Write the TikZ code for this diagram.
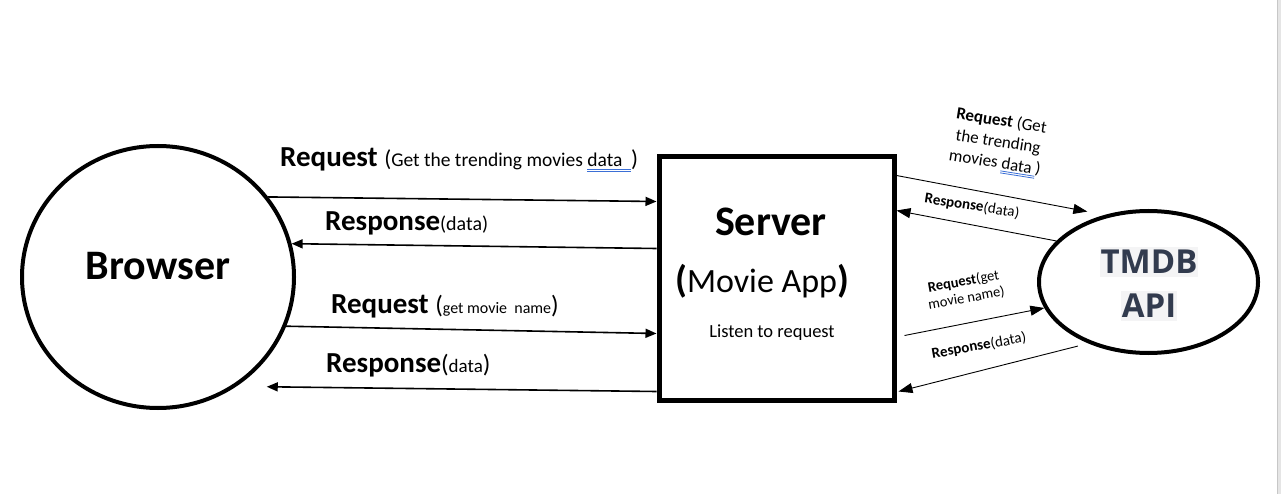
\documentclass[tikz,border=0pt]{standalone}
\usepackage{fontspec}
\setmainfont{Carlito}
\newfontfamily\apifont{Open Sans}
\usetikzlibrary{calc,arrows.meta,shapes.geometric}
\definecolor{apitext}{HTML}{323B4E}
\definecolor{apibg}{HTML}{F4F4F5}
\definecolor{ulblue}{HTML}{3B6FD6}
\newcommand{\sz}[1]{\fontsize{#1}{#1}\selectfont}
\newcommand{\dblul}[1]{\setbox0=\hbox{#1}%
  \rlap{\color{ulblue}\raisebox{-2.7pt}{\rule{\wd0}{0.8pt}}}%
  \rlap{\color{ulblue}\raisebox{-4.7pt}{\rule{\wd0}{0.8pt}}}\box0}
\begin{document}
\begin{tikzpicture}[x=1pt,y=-1pt]
      \tikzstyle{party}=[draw,ellipse,line width=4pt,inner sep=0pt]
      \tikzstyle{app}=[draw,rectangle,line width=5pt,inner sep=0pt]
      \tikzstyle{call}=[draw,line width=1.6pt,-{Triangle[length=11pt,width=9pt]}]
      \tikzstyle{apicall}=[draw,line width=0.9pt,-{Triangle[length=14pt,width=10pt]}]
      \tikzstyle{lbl}=[inner sep=0pt,anchor=base west]
      \tikzstyle{tilt}=[inner sep=0pt,align=center]
      \tikzstyle{hl}=[fill=apibg,text=apitext,inner xsep=1pt,inner ysep=3pt,font=\apifont\bfseries\sz{33}]
      \useasboundingbox (0,0) rectangle (1281,494);
      \fill[white] (0,0) rectangle (1281,494);
      \fill[black!10] (1277,0) rectangle (1281,494);
      \draw[black!22,line width=1.3pt] (1277.6,0) -- (1277.6,494);
      % the three parties
      \node[party,minimum width=272pt,minimum height=262pt] (browser) at (158,277) {};
      \node (browsertxt) at (158,266) {\sz{42}\bfseries Browser};
      \node[app,minimum width=235pt,minimum height=243pt] (app) at (776.5,278.5) {};
      \node (apptitle) at (771,222) {\sz{42}\bfseries Server};
      \node (appsub) at (762,281) {{\bfseries\sz{38}(}{\sz{34}Movie App}{\bfseries\sz{38})}};
      \node (applisten) at (772,333) {\sz{18.5}Listen to request};
      \node[party,minimum width=219pt,minimum height=142pt] (tmdb) at (1148.5,282) {};
      \node[hl] (tmdbtop) at (1149,262) {TMDB};
      \node[hl] (tmdbbot) at (1149,306) {API};
      % browser <-> server
      \path[call] (browser.36) -- ($(app.west)+(0,-77)$);
      \path[call] ($(app.west)+(0,-30)$) -- (browser.14);
      \path[call] (browser.-21) -- ($(app.west)+(0,55)$);
      \path[call] ($(app.west)+(0,113)$) -- ($(browser.-45)+(13,14)$);
      \node[lbl] (req1) at (280,167) {\textbf{\sz{29}Request }{\sz{23}(}{\sz{19.5}Get the trending movies \dblul{data\ \ }}{\sz{23})}};
      \node[lbl] (res1) at (325,231) {\textbf{\sz{29}Response}{\sz{20}(data)}};
      \node[lbl] (req2) at (331,313) {\textbf{\sz{29}Request }{\sz{25}(}{\sz{16}get movie\ \ name}{\sz{25})}};
      \node[lbl] (res2) at (326,372) {\textbf{\sz{29}Response}{\sz{25}(}{\sz{19}data}{\sz{25})}};
      % server <-> tmdb
      \path[apicall] ($(app.east)+(0,-103)$) -- ($(tmdb.131)+(-6,-7)$);
      \path[apicall] (tmdb.156) -- ($(app.east)+(0,-68)$);
      \path[apicall] ($(app.east)+(8,57)$) -- (tmdb.194);
      \path[apicall] ($(tmdb.222)+(-5,5)$) -- ($(app.east)+(2,113)$);
      \node[tilt,rotate=-9,font=\fontsize{17}{21}\selectfont] (req3) at (998,143) {\textbf{Request} (Get\\the trending\\movies \dblul{data\ })};
      \node[tilt,rotate=-9,font=\sz{15}] (res3) at (972,206) {\textbf{Response}(data)};
      \node[tilt,rotate=10,font=\fontsize{14.5}{17}\selectfont] (req4) at (965,290) {\textbf{Request}(get\\movie name)};
      \node[tilt,rotate=10,font=\sz{15}] (res4) at (979,346) {\textbf{Response}(data)};
\end{tikzpicture}
\end{document}
